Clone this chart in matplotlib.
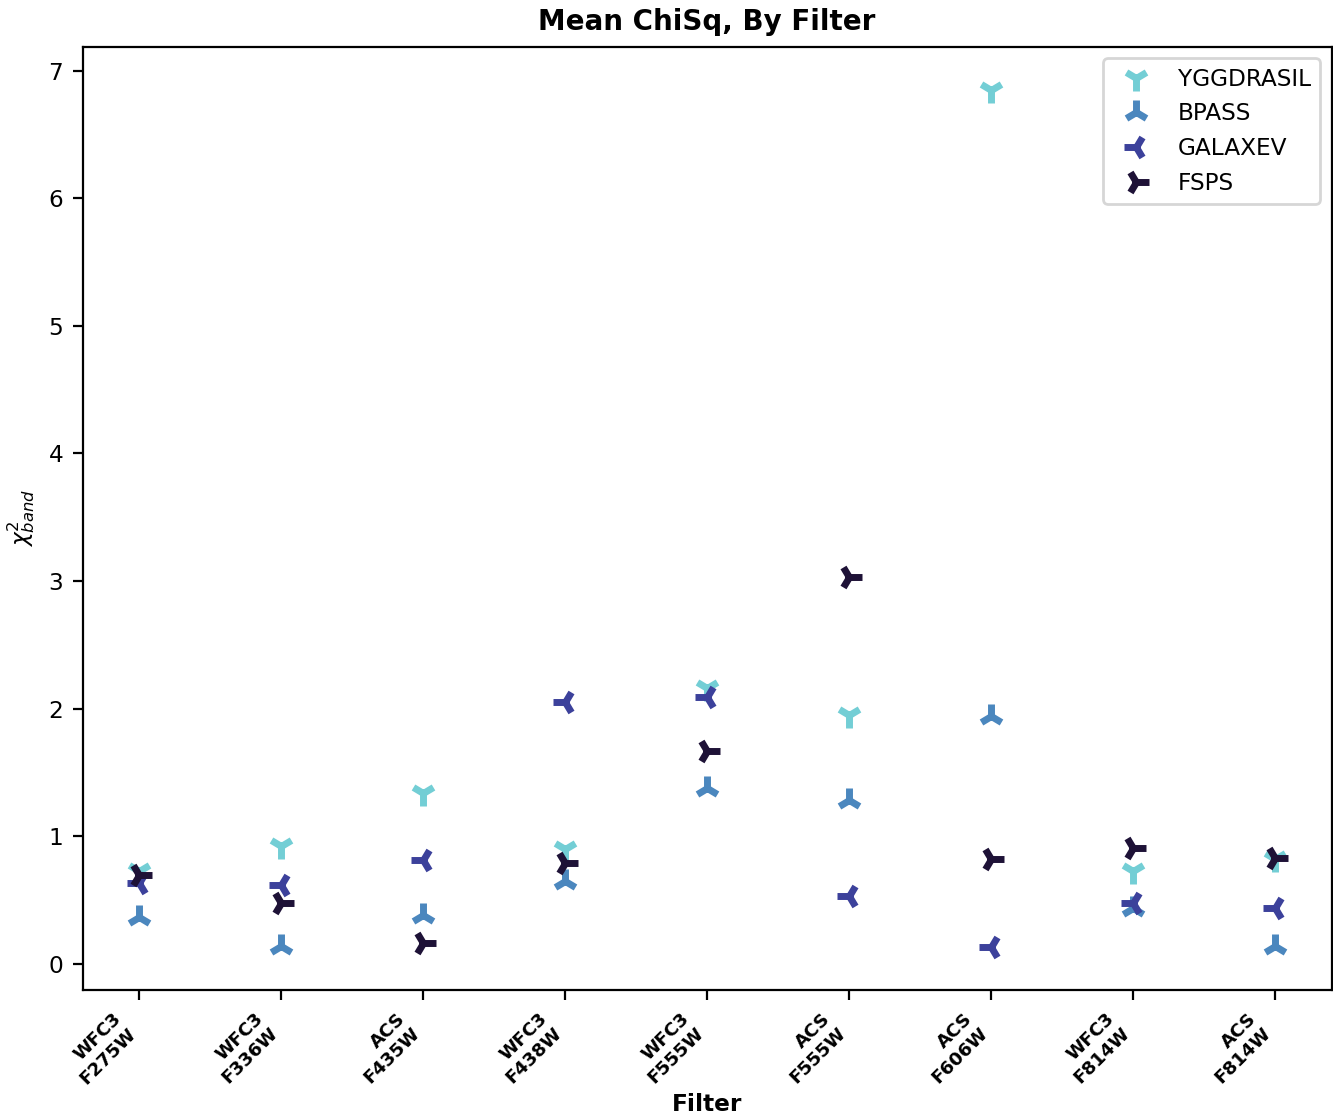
import numpy as np
import matplotlib
matplotlib.use('Agg')
import matplotlib.pyplot as plt

plt.rcParams['font.size'] = 8.4

filters = ['WFC3\nF275W', 'WFC3\nF336W', 'ACS\nF435W', 'WFC3\nF438W', 'WFC3\nF555W',
           'ACS\nF555W', 'ACS\nF606W', 'WFC3\nF814W', 'ACS\nF814W']

yggdrasil = [0.73, 0.92, 1.34, 0.90, 2.16, 1.95, 6.85, 0.73, 0.82]
bpass = [0.37, 0.14, 0.38, 0.65, 1.38, 1.28, 1.94, 0.44, 0.14]
galaxev = [0.63, 0.62, 0.81, 2.05, 2.09, 0.53, 0.13, 0.48, 0.44]
fsps = [0.70, 0.48, 0.16, 0.79, 1.67, 3.03, 0.82, 0.91, 0.83]

models = ['YGGDRASIL', 'BPASS', 'GALAXEV', 'FSPS']
values = [yggdrasil, bpass, galaxev, fsps]
markers = ['1', '2', '3', '4']
colors = ['#73ced5', '#4b87be', '#3c419b', '#1e1237']

fig, ax = plt.subplots(figsize=(6.665, 5.575), dpi=200)
x = np.arange(len(filters))
for name, vals, m, c in zip(models, values, markers, colors):
    ax.plot(x, vals, linestyle='none', marker=m, color=c, markersize=9,
            markeredgewidth=2.5, label=name)

ax.set_xlim(-0.4, len(filters) - 0.6)
ax.set_xticks(x)
ax.set_xticklabels(filters, rotation=45, ha='right',
                   fontweight='bold', fontsize=6.6)
ax.set_xlabel('Filter', fontweight='bold', labelpad=2)
ax.set_ylabel(r'$\chi^2_{band}$')
ax.set_title('Mean ChiSq, By Filter', fontweight='bold', fontsize=10)
ax.legend(loc='upper right')

plt.subplots_adjust(left=0.062, right=0.999, top=0.958, bottom=0.112)
fig.savefig('out.png', dpi=200)
